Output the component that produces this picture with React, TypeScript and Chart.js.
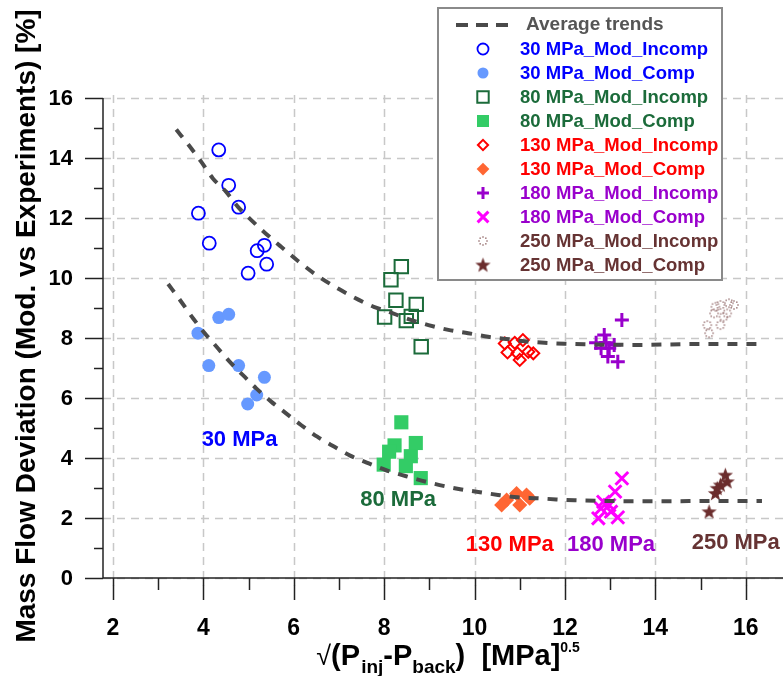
import React, { useEffect, useRef } from 'react';
import { Chart, registerables } from 'chart.js';
import { drawPoint } from 'chart.js/helpers';

Chart.register(...registerables);

const FONT = '"Liberation Sans", Arial, sans-serif';

// ---------- DATA ----------
const xTickValues = [2, 4, 6, 8, 10, 12, 14, 16];
const xMinorTicks = [3, 5, 7, 9, 11, 13, 15];
const yTickValues = [0, 2, 4, 6, 8, 10, 12, 14, 16];
const yMinorTicks = [1, 3, 5, 7, 9, 11, 13, 15];

const upperTrendX = [3.40, 3.70, 3.95, 4.21, 4.50, 4.76, 5.06, 5.39, 5.72, 6.10, 6.50, 7.00, 7.44, 7.77, 8.10, 8.47, 8.98, 9.42, 9.86, 10.30, 10.70, 11.11, 11.55, 11.99, 12.43, 13.64, 14.93, 15.77, 16.36];
const upperTrendY = [14.95, 14.38, 13.88, 13.32, 12.88, 12.38, 11.93, 11.47, 11.04, 10.56, 10.10, 9.63, 9.27, 9.04, 8.88, 8.66, 8.43, 8.27, 8.16, 8.04, 7.97, 7.89, 7.84, 7.81, 7.79, 7.77, 7.80, 7.80, 7.80];

const lowerTrendX = [3.22, 3.51, 3.77, 4.03, 4.32, 4.58, 4.91, 5.17, 5.50, 5.83, 6.16, 6.52, 6.89, 7.26, 7.66, 8.03, 8.47, 9.00, 9.68, 10.12, 10.52, 10.96, 11.37, 11.81, 12.21, 12.84, 13.46, 14.34, 15.19, 16.03, 16.36];
const lowerTrendY = [9.80, 9.21, 8.66, 8.16, 7.66, 7.21, 6.71, 6.32, 5.88, 5.49, 5.10, 4.71, 4.38, 4.07, 3.82, 3.60, 3.40, 3.18, 2.96, 2.86, 2.77, 2.69, 2.66, 2.62, 2.59, 2.57, 2.56, 2.56, 2.57, 2.57, 2.57];

const p30IncompX = [4.34, 4.56, 4.78, 3.89, 4.13, 5.35, 5.19, 5.40, 4.99];
const p30IncompY = [14.27, 13.09, 12.36, 12.16, 11.16, 11.09, 10.91, 10.46, 10.16];
const p30CompX = [4.34, 4.56, 3.88, 4.12, 4.78, 5.35, 5.18, 4.98];
const p30CompY = [8.68, 8.79, 8.16, 7.08, 7.08, 6.69, 6.10, 5.80];

const p80IncompX = [8.38, 8.15, 8.26, 8.71, 8.01, 8.60, 8.49, 8.82];
const p80IncompY = [10.38, 9.94, 9.26, 9.12, 8.70, 8.72, 8.58, 7.71];
const p80CompX = [8.38, 8.23, 8.70, 8.11, 8.59, 7.99, 8.48, 8.81];
const p80CompY = [5.19, 4.42, 4.50, 4.21, 4.06, 3.78, 3.73, 3.33];

const p130IncompX = [10.67, 10.89, 11.07, 10.73, 10.95, 11.19, 11.30, 11.00];
const p130IncompY = [7.82, 7.84, 7.93, 7.52, 7.49, 7.54, 7.49, 7.27];
const p130CompX = [10.71, 10.93, 11.15, 11.00, 10.60, 11.22];
const p130CompY = [2.60, 2.82, 2.77, 2.43, 2.43, 2.66];

const p180IncompX = [13.26, 12.87, 12.69, 12.91, 13.09, 12.80, 12.98, 12.95, 13.17];
const p180IncompY = [8.60, 8.10, 7.84, 7.84, 7.77, 7.66, 7.66, 7.38, 7.21];
const p180CompX = [13.26, 13.11, 12.85, 12.98, 12.80, 13.02, 13.17, 12.74];
const p180CompY = [3.32, 2.88, 2.54, 2.43, 2.32, 2.21, 2.02, 1.99];

const p250IncompX = [15.33, 15.44, 15.63, 15.74, 15.30, 15.59, 15.51, 15.15, 15.44, 15.19];
const p250IncompY = [9.04, 9.10, 9.16, 9.10, 8.82, 8.82, 8.71, 8.43, 8.43, 8.16];
const p250CompX = [15.55, 15.59, 15.44, 15.37, 15.33, 15.19];
const p250CompY = [3.43, 3.21, 3.10, 2.99, 2.82, 2.21];

const seriesNames = [
  '30 MPa_Mod_Incomp', '30 MPa_Mod_Comp',
  '80 MPa_Mod_Incomp', '80 MPa_Mod_Comp',
  '130 MPa_Mod_Incomp', '130 MPa_Mod_Comp',
  '180 MPa_Mod_Incomp', '180 MPa_Mod_Comp',
  '250 MPa_Mod_Incomp', '250 MPa_Mod_Comp',
];
const trendName = 'Average trends';

const pressureLabels = ['30 MPa', '80 MPa', '130 MPa', '180 MPa', '250 MPa'];
const pressureLabelX = [4.8, 8.31, 10.78, 13.02, 15.78];
const pressureLabelY = [4.6, 2.6, 1.1, 1.1, 1.17];

const xTitleParts = ['√(P', 'inj', '-P', 'back', ')  [MPa]', '0.5'];
const yTitle = 'Mass Flow Deviation (Mod. vs Experiments) [%]';

// ---------- STYLES ----------
const BLUE = '#0000ff';
const LBLUE = '#6699ff';
const DGREEN = '#1b6b3a';
const LGREEN = '#33cc66';
const RED = '#ff0000';
const ORANGE = '#ff6633';
const PURPLE = '#9900cc';
const MAGENTA = '#ff00ff';
const BROWN = '#663333';
const TREND = '#4a4a4a';
const pressureColors = [BLUE, DGREEN, RED, PURPLE, BROWN];
const legendTextColors = [BLUE, BLUE, DGREEN, DGREEN, RED, RED, PURPLE, PURPLE, BROWN, BROWN];

function pts(xs: number[], ys: number[]) {
  return xs.map((x, i) => ({ x, y: ys[i] }));
}

function makeStar(): HTMLCanvasElement {
  const c = document.createElement('canvas');
  c.width = 17; c.height = 17;
  const g = c.getContext('2d')!;
  g.fillStyle = '#6b2d2d';
  g.beginPath();
  for (let i = 0; i < 10; i++) {
    const r = i % 2 === 0 ? 8 : 3.3;
    const a = -Math.PI / 2 + (i * Math.PI) / 5;
    const px = 8.5 + r * Math.cos(a);
    const py = 9 + r * Math.sin(a);
    if (i === 0) g.moveTo(px, py); else g.lineTo(px, py);
  }
  g.closePath();
  g.fill();
  return c;
}

function makeDottedCircle(): HTMLCanvasElement {
  const c = document.createElement('canvas');
  c.width = 12; c.height = 12;
  const g = c.getContext('2d')!;
  g.fillStyle = 'rgba(110,55,55,0.75)';
  for (let i = 0; i < 8; i++) {
    const a = (i * Math.PI) / 4;
    g.fillRect(6 + 4 * Math.cos(a) - 0.7, 6 + 4 * Math.sin(a) - 0.7, 1.4, 1.4);
  }
  return c;
}

export default function App() {
  const ref = useRef<HTMLCanvasElement | null>(null);

  useEffect(() => {
    if (!ref.current) return;
    const star = makeStar();
    const dotted = makeDottedCircle();

    const markerStyles: any[] = [
      { pointStyle: 'circle', pointRadius: 6.5, pointBorderWidth: 1.8, pointBorderColor: BLUE, pointBackgroundColor: 'rgba(0,0,0,0)' },
      { pointStyle: 'circle', pointRadius: 6.5, pointBorderWidth: 0, pointBorderColor: LBLUE, pointBackgroundColor: LBLUE },
      { pointStyle: 'rect', pointRadius: 9.5, pointBorderWidth: 2, pointBorderColor: DGREEN, pointBackgroundColor: 'rgba(0,0,0,0)' },
      { pointStyle: 'rect', pointRadius: 10, pointBorderWidth: 0, pointBorderColor: LGREEN, pointBackgroundColor: LGREEN },
      { pointStyle: 'rectRot', pointRadius: 6, pointBorderWidth: 2, pointBorderColor: RED, pointBackgroundColor: 'rgba(0,0,0,0)' },
      { pointStyle: 'rectRot', pointRadius: 7.5, pointBorderWidth: 0, pointBorderColor: ORANGE, pointBackgroundColor: ORANGE },
      { pointStyle: 'cross', pointRadius: 7, pointBorderWidth: 3, pointBorderColor: PURPLE, pointBackgroundColor: PURPLE },
      { pointStyle: 'crossRot', pointRadius: 9, pointBorderWidth: 3, pointBorderColor: MAGENTA, pointBackgroundColor: MAGENTA },
      { pointStyle: dotted, pointRadius: 6, pointBorderWidth: 0, pointBorderColor: BROWN, pointBackgroundColor: BROWN },
      { pointStyle: star, pointRadius: 8, pointBorderWidth: 0, pointBorderColor: BROWN, pointBackgroundColor: BROWN },
    ];
    const seriesData = [
      pts(p30IncompX, p30IncompY), pts(p30CompX, p30CompY),
      pts(p80IncompX, p80IncompY), pts(p80CompX, p80CompY),
      pts(p130IncompX, p130IncompY), pts(p130CompX, p130CompY),
      pts(p180IncompX, p180IncompY), pts(p180CompX, p180CompY),
      pts(p250IncompX, p250IncompY), pts(p250CompX, p250CompY),
    ];

    const trendStyle = {
      showLine: true,
      borderColor: TREND,
      borderWidth: 4,
      borderDash: [10, 9],
      pointRadius: 0,
      cubicInterpolationMode: 'monotone' as const,
      clip: false as any,
    };

    const datasets: any[] = [
      { label: trendName, data: pts(upperTrendX, upperTrendY), ...trendStyle },
      { label: trendName + ' (comp)', data: pts(lowerTrendX, lowerTrendY), ...trendStyle },
      ...seriesNames.map((name, i) => ({
        label: name,
        data: seriesData[i],
        showLine: false,
        clip: false,
        ...markerStyles[i],
      })),
    ];

    const customPlugin = {
      id: 'customDecor',
      beforeDatasetsDraw(chart: any) {
        const { ctx, chartArea } = chart;
        const x = chart.scales.x;
        const y = chart.scales.y;
        const axisX = chartArea.left - 10;
        const axisY = chartArea.bottom;
        const rightEdge = chart.width;
        ctx.save();
        // grid
        ctx.strokeStyle = '#c8c8c8';
        ctx.lineWidth = 1.5;
        ctx.setLineDash([8, 6]);
        for (const v of yTickValues) {
          const py = Math.round(y.getPixelForValue(v)) + 0.5;
          ctx.beginPath(); ctx.moveTo(axisX, py); ctx.lineTo(rightEdge, py); ctx.stroke();
        }
        for (const v of xTickValues) {
          const px = Math.round(x.getPixelForValue(v)) + 0.5;
          ctx.beginPath(); ctx.moveTo(px, chartArea.top - 3); ctx.lineTo(px, axisY + 8); ctx.stroke();
        }
        ctx.setLineDash([]);
        // axes
        ctx.strokeStyle = '#222';
        ctx.lineWidth = 1.5;
        ctx.beginPath();
        ctx.moveTo(axisX, y.getPixelForValue(16));
        ctx.lineTo(axisX, axisY);
        ctx.stroke();
        ctx.beginPath();
        ctx.moveTo(axisX, axisY);
        ctx.lineTo(rightEdge, axisY);
        ctx.stroke();
        // ticks
        for (const v of yTickValues) {
          const py = Math.round(y.getPixelForValue(v)) + 0.5;
          ctx.beginPath(); ctx.moveTo(axisX - 18, py); ctx.lineTo(axisX, py); ctx.stroke();
        }
        for (const v of yMinorTicks) {
          const py = Math.round(y.getPixelForValue(v)) + 0.5;
          ctx.beginPath(); ctx.moveTo(axisX - 9, py); ctx.lineTo(axisX, py); ctx.stroke();
        }
        for (const v of xTickValues) {
          const px = Math.round(x.getPixelForValue(v)) + 0.5;
          ctx.beginPath(); ctx.moveTo(px, axisY); ctx.lineTo(px, axisY + 22); ctx.stroke();
        }
        for (const v of xMinorTicks) {
          const px = Math.round(x.getPixelForValue(v)) + 0.5;
          ctx.beginPath(); ctx.moveTo(px, axisY); ctx.lineTo(px, axisY + 12); ctx.stroke();
        }
        // tick labels
        ctx.fillStyle = '#000';
        ctx.font = `bold 22px ${FONT}`;
        ctx.textAlign = 'right';
        ctx.textBaseline = 'middle';
        for (const v of yTickValues) {
          ctx.fillText(String(v), axisX - 30, y.getPixelForValue(v) + 1);
        }
        ctx.textAlign = 'center';
        ctx.font = `bold 23px ${FONT}`;
        for (const v of xTickValues) {
          ctx.fillText(String(v), x.getPixelForValue(v), axisY + 51);
        }
        // y title
        ctx.save();
        ctx.translate(27, 326);
        ctx.rotate(-Math.PI / 2);
        ctx.font = `bold 28px ${FONT}`;
        ctx.textAlign = 'center';
        ctx.textBaseline = 'middle';
        ctx.fillText(yTitle, 0, 0);
        ctx.restore();
        // x title
        const mainF = `bold 29px ${FONT}`;
        const subF = `bold 19px ${FONT}`;
        const supF = `bold 14px ${FONT}`;
        const fonts = [mainF, subF, mainF, subF, mainF, supF];
        const dys = [0, 8, 0, 8, 0, -13];
        ctx.textAlign = 'left';
        ctx.textBaseline = 'alphabetic';
        let total = 0;
        const widths = xTitleParts.map((t, i) => {
          ctx.font = fonts[i];
          const w = ctx.measureText(t).width;
          total += w;
          return w;
        });
        let cx = 448 - total / 2;
        const base = 665;
        xTitleParts.forEach((t, i) => {
          ctx.font = fonts[i];
          if (i === 0) {
            ctx.font = `27px ${FONT}`;
            const wr = ctx.measureText('√').width;
            ctx.fillText('√', cx, base);
            ctx.font = mainF;
            ctx.fillText('(P', cx + wr, base);
          } else {
            ctx.fillText(t, cx, base + dys[i]);
          }
          cx += widths[i];
        });
        ctx.restore();
      },
      afterDatasetsDraw(chart: any) {
        const { ctx } = chart;
        const x = chart.scales.x;
        const y = chart.scales.y;
        ctx.save();
        // pressure labels
        ctx.font = `bold 22px ${FONT}`;
        ctx.textAlign = 'center';
        ctx.textBaseline = 'middle';
        pressureLabels.forEach((t, i) => {
          ctx.fillStyle = pressureColors[i];
          ctx.fillText(t, x.getPixelForValue(pressureLabelX[i]), y.getPixelForValue(pressureLabelY[i]));
        });
        // legend box
        const bx = 438, by = 8, bw = 284, bh = 272;
        ctx.fillStyle = '#ffffff';
        ctx.fillRect(bx, by, bw, bh);
        ctx.strokeStyle = '#8a8a8a';
        ctx.lineWidth = 2;
        ctx.strokeRect(bx, by, bw, bh);
        const symX = 483;
        const textX = 520;
        const row0 = 25;
        const rowH = 24;
        ctx.strokeStyle = TREND;
        ctx.lineWidth = 4;
        ctx.setLineDash([12, 8]);
        ctx.beginPath(); ctx.moveTo(456, row0); ctx.lineTo(512, row0); ctx.stroke();
        ctx.setLineDash([]);
        ctx.font = `bold 19px ${FONT}`;
        ctx.textAlign = 'left';
        ctx.textBaseline = 'middle';
        ctx.fillStyle = '#555555';
        ctx.fillText(trendName, textX + 6, row0);
        seriesNames.forEach((name, i) => {
          const ry = row0 + rowH * (i + 1);
          const st = markerStyles[i];
          ctx.save();
          ctx.fillStyle = st.pointBackgroundColor;
          ctx.strokeStyle = st.pointBorderColor;
          ctx.lineWidth = st.pointBorderWidth;
          const scale = typeof st.pointStyle === 'string' ? 0.85 : 0.8;
          drawPoint(ctx, {
            pointStyle: st.pointStyle,
            radius: st.pointRadius * scale,
            borderWidth: st.pointBorderWidth,
            rotation: 0,
          } as any, symX, ry);
          ctx.restore();
          ctx.font = `bold 18.5px ${FONT}`;
          ctx.fillStyle = legendTextColors[i];
          ctx.textAlign = 'left';
          ctx.textBaseline = 'middle';
          ctx.fillText(name, textX, ry + 1);
        });
        ctx.restore();
      },
    };

    const chart = new Chart(ref.current, {
      type: 'scatter',
      data: { datasets },
      options: {
        animation: false,
        responsive: false,
        devicePixelRatio: 1,
        events: [],
        layout: { padding: { left: 113, right: 0, top: 98, bottom: 98 } },
        scales: {
          x: { type: 'linear', min: 2, max: 16.56, display: false },
          y: { type: 'linear', min: 0, max: 16, display: false },
        },
        plugins: {
          legend: { display: false },
          tooltip: { enabled: false },
        },
      },
      plugins: [customPlugin],
    });
    return () => chart.destroy();
  }, []);

  return (
    <canvas
      ref={ref}
      width={783}
      height={676}
      style={{ position: 'fixed', left: 0, top: 0, width: 783, height: 676, background: '#fff' }}
    />
  );
}
